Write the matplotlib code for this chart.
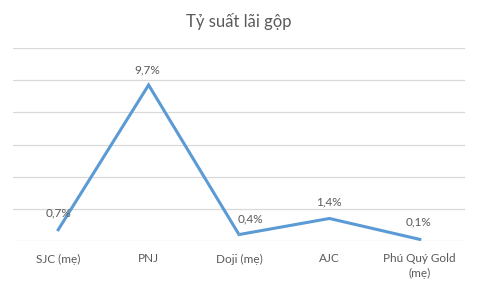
import matplotlib.pyplot as plt

# du lieu
cong_ty = ["SJC (mẹ)", "PNJ", "Doji (mẹ)", "AJC", "Phú Quý Gold\n(mẹ)"]
ty_suat = [0.7, 9.7, 0.4, 1.4, 0.1]
nhan = ["0,7%", "9,7%", "0,4%", "1,4%", "0,1%"]

plt.rcParams["font.family"] = ["Lato", "DejaVu Sans"]
xam = "#595959"

fig = plt.figure(figsize=(4.78, 2.87), dpi=100)
ax = fig.add_axes([13 / 478, 46 / 287, 452 / 478, 193 / 287])

x = list(range(len(cong_ty)))
ax.plot(x, ty_suat, color="#5B9BD5", lw=2.2, solid_joinstyle="miter", zorder=3)

ax.set_xlim(-0.5, len(cong_ty) - 0.5)
ax.set_ylim(0, 12)
ax.set_yticks(range(0, 13, 2))
ax.yaxis.grid(True, color="#D9D9D9", lw=0.9)
ax.set_axisbelow(True)
ax.tick_params(axis="y", left=False, labelleft=False)
ax.tick_params(axis="x", length=0, pad=9, labelsize=8.5, labelcolor=xam)
ax.set_xticks(x)
ax.set_xticklabels(cong_ty, linespacing=1.35)
for s in ax.spines.values():
    s.set_visible(False)

# vi tri nhan (pixel)
lech = [(0, 17), (-1, 15), (11, 16), (-1, 17), (-1, 17)]
for i, (v, t) in enumerate(zip(ty_suat, nhan)):
    kw = {}
    if i == 2:
        kw["arrowprops"] = dict(arrowstyle="-", color="#A6A6A6", lw=0.7,
                                shrinkA=6, shrinkB=1)
    ax.annotate(t, (i, v), xytext=lech[i], textcoords="offset pixels",
                ha="center", va="center", fontsize=8.5, color=xam, **kw)

fig.text(0.5, 1 - 22 / 287, "Tỷ suất lãi gộp", ha="center", va="center",
         fontsize=12, color=xam)

fig.savefig("out.png", dpi=100)
